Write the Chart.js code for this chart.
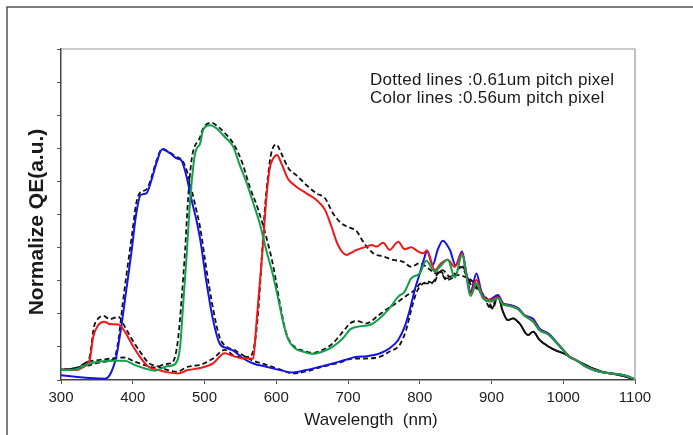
<!DOCTYPE html>
<html>
<head>
<meta charset="utf-8">
<script src="https://cdn.jsdelivr.net/npm/chart.js@4.4.1/dist/chart.umd.min.js"></script>
<style>
  html, body { margin: 0; padding: 0; background: #fff; }
  #wrap { width: 693px; height: 435px; }
</style>
</head>
<body>
<div id="wrap"><canvas id="qeChart" width="693" height="435"></canvas></div>
<script>
// Axis ticks
const xTicks = [300, 400, 500, 600, 700, 800, 900, 1000, 1100];
const yTicks = [0, 1, 2, 3, 4, 5, 6, 7, 8, 9, 10];

// Shared long-wavelength tail (all 0.56um lines nearly overlap after 900nm)
const tailWl = [916, 925, 937, 946, 958, 967, 979, 990, 1000, 1009, 1018, 1032, 1051, 1074, 1088, 1100];

// 0.56um pitch pixel - colour lines
const blueWl = [300, 320, 340, 361, 368, 377, 384, 391, 398, 405, 411, 419, 426, 433, 441, 452, 461, 468, 475, 482, 489, 494, 503, 512, 521, 531, 540, 554, 568, 586, 605, 623, 642, 661, 679, 698, 712, 726, 744, 758, 770, 779, 786, 793, 800, 807, 810, 818, 825, 832, 842, 850, 859, 865, 871, 879, 886, 895, 900, 909];
const blueQe = [0.14, 0.10, 0.06, 0.04, 0.15, 0.70, 1.61, 2.72, 3.83, 5.04, 5.59, 5.64, 6.04, 6.55, 6.97, 6.85, 6.70, 6.63, 6.14, 5.44, 4.80, 4.25, 2.92, 1.81, 1.11, 0.96, 0.89, 0.65, 0.50, 0.40, 0.30, 0.23, 0.30, 0.40, 0.50, 0.62, 0.70, 0.72, 0.80, 0.96, 1.21, 1.61, 2.11, 2.72, 3.22, 3.73, 3.91, 3.47, 3.93, 4.21, 3.93, 3.47, 3.88, 3.22, 2.67, 3.22, 2.67, 2.42, 2.45, 2.57];
const blueTail = [2.32, 2.27, 2.17, 1.96, 1.85, 1.55, 1.41, 1.16, 0.91, 0.70, 0.60, 0.40, 0.25, 0.18, 0.12, 0.02];

const redWl = [300, 320, 333, 340, 345, 352, 360, 368, 380, 389, 398, 410, 422, 436, 449, 463, 477, 494, 512, 528, 540, 554, 568, 572, 577, 582, 586, 591, 596, 601, 607, 616, 628, 642, 656, 668, 677, 686, 698, 705, 712, 726, 733, 740, 749, 758, 770, 779, 788, 798, 805, 810, 821, 830, 839, 849, 859, 865, 871, 879, 888, 900, 909];
const redQe = [0.30, 0.30, 0.42, 0.60, 1.31, 1.66, 1.76, 1.69, 1.68, 1.46, 1.11, 0.70, 0.40, 0.30, 0.23, 0.20, 0.30, 0.36, 0.50, 0.81, 0.73, 0.65, 0.65, 1.61, 2.92, 4.23, 5.44, 6.40, 6.70, 6.80, 6.55, 6.09, 5.84, 5.64, 5.44, 5.14, 4.63, 4.08, 3.78, 3.85, 3.93, 4.03, 4.08, 4.03, 4.15, 3.93, 4.18, 3.95, 4.01, 3.88, 3.83, 3.91, 3.32, 3.53, 3.63, 3.42, 3.83, 3.15, 2.62, 3.02, 2.52, 2.42, 2.50];
const redTail = [2.30, 2.25, 2.15, 1.95, 1.78, 1.52, 1.38, 1.14, 0.90, 0.70, 0.60, 0.40, 0.25, 0.18, 0.12, 0.02];

const greenWl = [300, 320, 338, 352, 371, 389, 403, 417, 431, 440, 449, 459, 466, 470, 475, 480, 487, 494, 498, 508, 517, 528, 540, 549, 559, 568, 577, 586, 596, 603, 610, 617, 626, 637, 651, 665, 679, 693, 703, 716, 730, 744, 758, 770, 779, 788, 800, 809, 821, 828, 839, 849, 859, 871, 879, 888, 900, 909];
const greenQe = [0.30, 0.32, 0.48, 0.55, 0.58, 0.58, 0.45, 0.35, 0.28, 0.35, 0.42, 0.48, 1.01, 2.21, 3.73, 5.44, 6.85, 7.15, 7.55, 7.70, 7.60, 7.35, 7.05, 6.50, 5.94, 5.34, 4.73, 3.93, 3.12, 2.42, 1.71, 1.21, 0.96, 0.86, 0.79, 0.86, 1.01, 1.26, 1.53, 1.62, 1.66, 1.86, 2.17, 2.52, 2.67, 3.07, 3.22, 3.60, 3.27, 3.42, 3.63, 3.10, 3.78, 2.54, 2.92, 2.47, 2.37, 2.47];
const greenTail = [2.28, 2.24, 2.14, 1.94, 1.76, 1.50, 1.38, 1.14, 0.90, 0.68, 0.60, 0.40, 0.25, 0.18, 0.12, 0.02];

// 0.61um pitch pixel - dotted lines
const dotTailWl = [916, 923, 930, 939, 951, 958, 967, 976, 988, 1000, 1013, 1027, 1041, 1060, 1078, 1100];
const dotTailQe = [2.06, 1.81, 1.86, 1.71, 1.36, 1.46, 1.21, 1.06, 0.91, 0.81, 0.65, 0.50, 0.35, 0.22, 0.15, 0.02];

const dotRedWl = [300, 320, 333, 340, 346, 352, 359, 368, 380, 389, 398, 410, 422, 436, 449, 461, 477, 494, 512, 528, 545, 563, 570, 575, 580, 584, 589, 593, 600, 607, 617, 628, 642, 656, 668, 679, 691, 703, 712, 721, 735, 749, 763, 777, 788, 800, 812, 823, 832, 842, 853, 865, 874, 884, 895, 902, 909];
const dotRedQe = [0.32, 0.35, 0.50, 0.70, 1.61, 1.86, 1.94, 1.84, 1.91, 1.61, 1.26, 0.86, 0.52, 0.40, 0.30, 0.25, 0.40, 0.46, 0.65, 0.91, 0.70, 0.70, 1.11, 2.11, 3.73, 5.14, 6.25, 6.85, 7.12, 6.85, 6.40, 6.19, 5.89, 5.64, 5.49, 5.04, 4.73, 4.60, 4.50, 4.18, 3.83, 3.73, 3.63, 3.57, 3.42, 3.53, 3.37, 3.22, 3.32, 3.12, 3.17, 3.10, 2.97, 2.67, 2.42, 2.17, 2.54];

const dotGreenWl = [300, 320, 338, 352, 371, 389, 403, 417, 431, 445, 456, 463, 468, 473, 477, 482, 494, 498, 510, 519, 531, 540, 552, 563, 575, 586, 596, 605, 614, 626, 637, 651, 665, 679, 693, 703, 712, 726, 740, 754, 767, 781, 793, 802, 812, 819, 828, 837, 849, 858, 870, 879, 888, 900, 909];
const dotGreenQe = [0.30, 0.35, 0.55, 0.60, 0.65, 0.68, 0.55, 0.45, 0.38, 0.48, 0.55, 1.21, 2.42, 3.93, 5.44, 6.65, 7.35, 7.60, 7.77, 7.65, 7.40, 7.15, 6.60, 5.84, 5.14, 4.33, 3.42, 2.32, 1.41, 0.99, 0.89, 0.82, 0.91, 1.11, 1.46, 1.71, 1.78, 1.71, 1.91, 2.14, 2.32, 2.54, 2.72, 2.92, 2.92, 2.97, 3.32, 3.07, 3.22, 3.47, 2.92, 2.77, 2.57, 2.19, 2.52];

const dotBlueWl = [300, 330, 360, 374, 380, 386, 392, 399, 405, 411, 419, 426, 433, 441, 452, 461, 468, 475, 482, 489, 494, 503, 512, 521, 531, 540, 554, 568, 586, 605, 623, 642, 661, 679, 688, 707, 726, 744, 758, 772, 781, 788, 795, 802, 812, 819, 828, 837, 849, 858, 867, 879, 888, 900, 909];
const dotBlueQe = [0.30, 0.40, 0.55, 0.65, 1.20, 2.30, 3.30, 4.40, 5.35, 5.68, 5.75, 6.12, 6.62, 6.98, 6.87, 6.74, 6.66, 6.35, 5.75, 5.10, 4.60, 3.30, 2.15, 1.30, 1.00, 0.92, 0.74, 0.58, 0.46, 0.32, 0.20, 0.26, 0.38, 0.48, 0.52, 0.65, 0.65, 0.70, 0.86, 1.06, 1.51, 2.11, 2.62, 2.87, 2.97, 2.92, 3.27, 3.02, 3.14, 3.42, 3.07, 2.82, 2.57, 2.14, 2.52];

// Build {x,y} points
function toPoints(wl, qe, tWl, tQe) {
  const pts = wl.map((w, i) => ({ x: w, y: qe[i] }));
  tWl.forEach((w, i) => pts.push({ x: w, y: tQe[i] }));
  return pts;
}

const FONT = '"Liberation Sans", Arial, sans-serif';

const dashStyle = (offset) => ({
  borderColor: '#111',
  borderWidth: 1.8,
  borderDash: [5, 3],
  borderDashOffset: offset
});

// Frame, plot border and texts
const decorations = {
  id: 'decorations',
  beforeDraw(chart) {
    const ctx = chart.ctx;
    ctx.save();
    ctx.fillStyle = '#fff';
    ctx.fillRect(0, 0, chart.width, chart.height);
    ctx.restore();
  },
  afterDraw(chart) {
    const ctx = chart.ctx;
    const a = chart.chartArea;
    ctx.save();
    // outer frame
    ctx.strokeStyle = '#555';
    ctx.lineWidth = 1.5;
    ctx.beginPath();
    ctx.moveTo(7, chart.height);
    ctx.lineTo(7, 7);
    ctx.lineTo(chart.width, 7);
    ctx.stroke();
    // plot area top / right border
    ctx.strokeStyle = '#999';
    ctx.lineWidth = 1.2;
    ctx.beginPath();
    ctx.moveTo(a.left, a.top);
    ctx.lineTo(a.right, a.top);
    ctx.lineTo(a.right, a.bottom);
    ctx.stroke();
    // annotation
    ctx.fillStyle = '#1a1a1a';
    ctx.font = '17px ' + FONT;
    ctx.letterSpacing = '0.25px';
    ctx.textAlign = 'left';
    ctx.textBaseline = 'alphabetic';
    ctx.fillText('Dotted lines :0.61um pitch pixel', 370, 85);
    ctx.fillText('Color lines :0.56um pitch pixel', 370, 103);
    ctx.letterSpacing = '0px';
    // x title
    ctx.textAlign = 'center';
    ctx.fillText('Wavelength  (nm)', 371, 425);
    // y title
    ctx.font = 'bold 21px ' + FONT;
    ctx.translate(43, 222);
    ctx.rotate(-Math.PI / 2);
    ctx.fillText('Normalize QE(a.u.)', 0, 0);
    ctx.restore();
  }
};

const ctx = document.getElementById('qeChart').getContext('2d');
const qeChart = new Chart(ctx, {
  type: 'line',
  data: {
    datasets: [
      { label: '0.56 G', data: toPoints(greenWl, greenQe, tailWl, greenTail), borderColor: '#12a04a', borderWidth: 2 },
      { label: '0.56 R', data: toPoints(redWl, redQe, tailWl, redTail), borderColor: '#f01818', borderWidth: 2 },
      { label: '0.56 B', data: toPoints(blueWl, blueQe, tailWl, blueTail), borderColor: '#1414e8', borderWidth: 2 },
      { label: '0.61 R', data: toPoints(dotRedWl, dotRedQe, dotTailWl, dotTailQe), ...dashStyle(0) },
      { label: '0.61 G', data: toPoints(dotGreenWl, dotGreenQe, dotTailWl, dotTailQe), ...dashStyle(2.7) },
      { label: '0.61 B', data: toPoints(dotBlueWl, dotBlueQe, dotTailWl, dotTailQe), ...dashStyle(5.3) }
    ]
  },
  options: {
    responsive: false,
    animation: false,
    elements: {
      point: { radius: 0 },
      line: { cubicInterpolationMode: 'monotone', fill: false }
    },
    layout: { padding: { left: 0, top: 49, right: 58, bottom: 0 } },
    plugins: {
      legend: { display: false },
      tooltip: { enabled: false }
    },
    scales: {
      x: {
        type: 'linear',
        min: xTicks[0],
        max: xTicks[xTicks.length - 1],
        afterBuildTicks: (scale) => { scale.ticks = xTicks.map(v => ({ value: v })); },
        afterFit: (scale) => { scale.height = 55; },
        ticks: {
          color: '#222',
          font: { family: FONT, size: 15 },
          padding: 5,
          maxRotation: 0,
          callback: (v) => String(v)
        },
        grid: {
          drawOnChartArea: false,
          drawTicks: true,
          tickLength: 4,
          color: '#555'
        },
        border: { color: '#444', width: 1.5 }
      },
      y: {
        type: 'linear',
        min: yTicks[0],
        max: yTicks[yTicks.length - 1],
        afterBuildTicks: (scale) => { scale.ticks = yTicks.map(v => ({ value: v })); },
        afterFit: (scale) => { scale.width = 61; },
        ticks: { display: false },
        grid: {
          drawOnChartArea: false,
          drawTicks: true,
          tickLength: 4,
          color: '#555'
        },
        border: { color: '#444', width: 1.5 }
      }
    }
  },
  plugins: [decorations]
});
</script>
</body>
</html>
